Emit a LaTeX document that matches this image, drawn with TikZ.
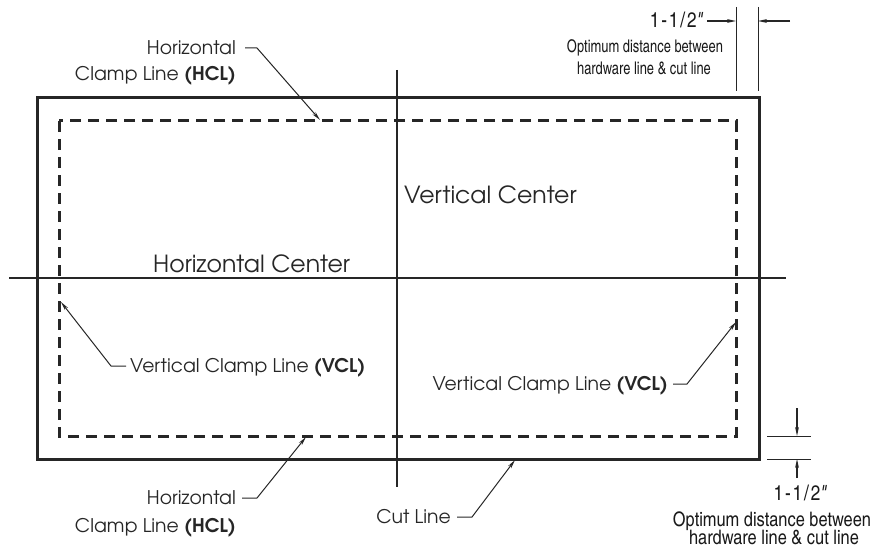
\documentclass[tikz,border=0pt]{standalone}
\usepackage{fontspec}
\setmainfont{TeX Gyre Adventor}
\newfontfamily\cond{TeX Gyre Heros Cn}
\usetikzlibrary{arrows.meta}
\begin{document}
\begin{tikzpicture}[x=1pt,y=-1pt,
  lbl/.style={font=\fontsize{18.8}{22}\selectfont, inner sep=0pt, text height=13.9pt, text depth=0pt, text=black!85},
  bigl/.style={font=\fontsize{23.6}{27}\selectfont, inner sep=0pt, text=black!85},
  dimA/.style={font=\cond\fontsize{17.5}{20}\selectfont\addfontfeatures{FakeStretch=0.9}, inner sep=0pt, text=black!90},
  dimB/.style={font=\cond\fontsize{20}{24}\selectfont, inner sep=0pt, text=black!90},
  numl/.style={font=\cond\fontsize{21}{24}\selectfont\addfontfeatures{LetterSpace=9}, inner sep=0pt, text=black!90},
  cutline/.style={line width=3pt, black!85},
  centerline/.style={line width=2pt, black!85},
  clampline/.style={line width=3pt, black!85, dash pattern=on 11pt off 7pt},
  leader/.style={line width=1pt, black!85, -{Stealth[length=9pt,width=3.8pt]}},
  extline/.style={line width=1pt, black!85},
  dimarrow/.style={line width=1.3pt, black!85, -{Stealth[length=9pt,width=3.8pt]}}
]
\useasboundingbox (0,0) rectangle (893,548);

% frames
\draw[cutline] (37,98) rectangle (759,459);
\draw[clampline] (59,121) rectangle (736,436);

% center lines
\coordinate (vcT) at (397,70);
\coordinate (vcB) at (397,487);
\coordinate (hcL) at (9,278);
\coordinate (hcR) at (786,278);
\draw[centerline] (vcT) -- (vcB);
\draw[centerline] (hcL) -- (hcR);

\node[bigl, anchor=base west] (vcen) at (404,203) {Vertical Center};
\node[bigl, anchor=base west] (hcen) at (153,272) {Horizontal Center};

% top HCL
\node[lbl, anchor=east] (hclTa) at (236,48) {Horizontal};
\node[lbl, anchor=base east] (hclTb) at (236,81) {Clamp Line \textbf{(HCL)}};
\coordinate (hclTtip) at (320,120);
\draw[leader] ([xshift=9pt]hclTa.east) -- ++(12,0) -- (hclTtip);

% left VCL
\node[lbl, anchor=west] (vclL) at (130,366) {Vertical Clamp Line \textbf{(VCL)}};
\coordinate (vclLtip) at (61,302);
\draw[leader] ([xshift=-4pt]vclL.west) -- ++(-15,0) -- (vclLtip);

% right VCL
\node[lbl, anchor=east] (vclR) at (668,384) {Vertical Clamp Line \textbf{(VCL)}};
\coordinate (vclRtip) at (736,322);
\draw[leader] ([xshift=5pt]vclR.east) -- ++(14,0) -- (vclRtip);

% bottom HCL
\node[lbl, anchor=east] (hclBa) at (236,498) {Horizontal};
\node[lbl, anchor=base east] (hclBb) at (236,532) {Clamp Line \textbf{(HCL)}};
\coordinate (hclBtip) at (306,437);
\draw[leader] ([xshift=6pt]hclBa.east) -- ++(15,0) -- (hclBtip);

% cut line
\node[lbl, anchor=east] (cut) at (451,517) {Cut Line};
\coordinate (cuttip) at (515,460);
\draw[leader] ([xshift=6pt]cut.east) -- ++(15,0) -- (cuttip);

% top-right dimension
\coordinate (exA1) at (736,7);  \coordinate (exA2) at (736,91);
\coordinate (exB1) at (758,7);  \coordinate (exB2) at (758,91);
\draw[extline] (exA1) -- (exA2);
\draw[extline] (exB1) -- (exB2);
\node[numl, anchor=base east] (dimT) at (703,28) {1-1/2{\itshape"}};
\coordinate (arrTL) at (736,21);
\coordinate (arrTR) at (758,21);
\coordinate (arrTRs) at (790,21);
\draw[dimarrow] ([xshift=4pt]dimT.base east |- arrTL) -- (arrTL);
\draw[dimarrow] (arrTRs) -- (arrTR);
\node[dimA, anchor=base] (optT) at (645,53) {Optimum distance between};
\node[dimA, anchor=base] (hwT) at (644,75) {hardware line \& cut line};

% bottom-right dimension
\coordinate (ehA1) at (767,436); \coordinate (ehA2) at (811,436);
\coordinate (ehB1) at (767,459); \coordinate (ehB2) at (811,459);
\draw[extline] (ehA1) -- (ehA2);
\draw[extline] (ehB1) -- (ehB2);
\coordinate (arrBt) at (797,408);
\coordinate (arrBtE) at (797,436);
\coordinate (arrBb) at (797,478);
\coordinate (arrBbE) at (797,459);
\draw[dimarrow] (arrBt) -- (arrBtE);
\draw[dimarrow] (arrBb) -- (arrBbE);
\node[numl, anchor=base] (dimB) at (800,500) {1-1/2{\itshape"}};
\node[dimB, anchor=base] (optB) at (772,526) {Optimum distance between};
\node[dimB, anchor=base] (hwB) at (774,544.5) {hardware line \& cut line};
\end{tikzpicture}
\end{document}
